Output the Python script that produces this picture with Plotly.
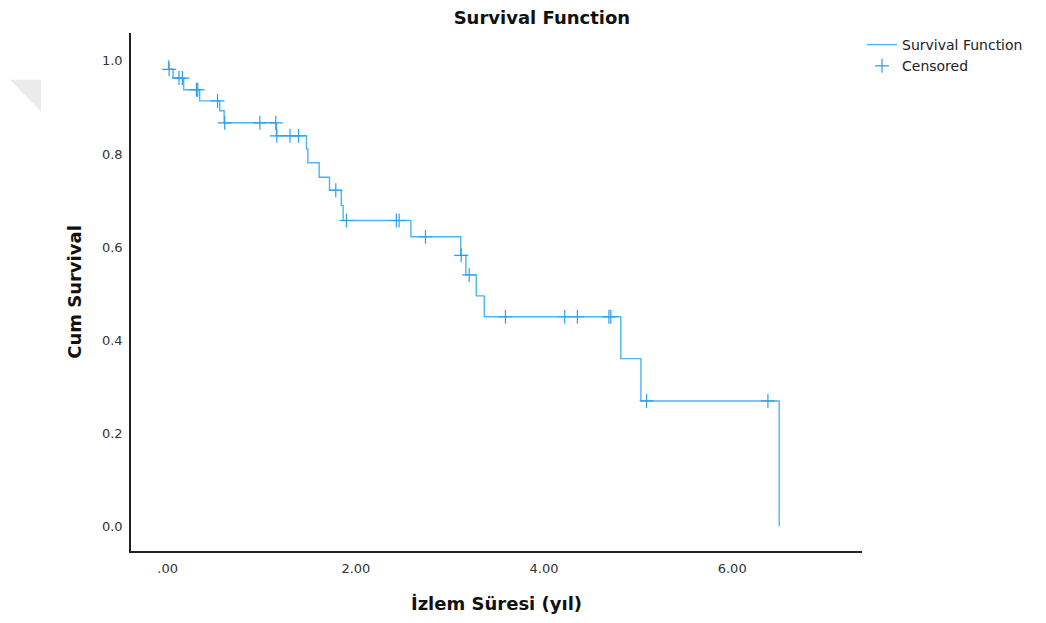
import numpy as np
import plotly.graph_objects as go

# Kaplan-Meier step points: event times (years) and cumulative survival after each step
event_times = [0.0, 0.01, 0.057, 0.17, 0.34, 0.553, 0.60, 1.156, 1.475, 1.49, 1.61,
               1.72, 1.845, 1.865, 2.585, 3.115, 3.17, 3.28, 3.365, 4.816, 5.03, 6.50]
cum_survival = [1.0, 0.982, 0.963, 0.938, 0.914, 0.893, 0.867, 0.839, 0.811, 0.781, 0.750,
                0.722, 0.689, 0.657, 0.622, 0.582, 0.540, 0.495, 0.450, 0.360, 0.269, 0.0]

# Censored follow-up times (years)
censor_times = [0.015, 0.12, 0.156, 0.305, 0.32, 0.53, 0.606, 0.98, 1.149, 1.16, 1.30,
                1.39, 1.787, 1.90, 2.43, 2.46, 2.74, 3.12, 3.205, 3.59, 4.22, 4.355,
                4.69, 4.71, 5.09, 6.38]

x_ticks = [0, 2, 4, 6]
x_tick_text = [".00", "2.00", "4.00", "6.00"]
y_ticks = [0.0, 0.2, 0.4, 0.6, 0.8, 1.0]
y_tick_text = ["0.0", "0.2", "0.4", "0.6", "0.8", "1.0"]

# survival level at each censored time
et = np.array(event_times)
cs = np.array(cum_survival)
censor_surv = cs[np.searchsorted(et, np.array(censor_times), side="right") - 1]

LINE = "#4db5f3"
MARK = "#2f9fe8"
FONT = "DejaVu Sans"

fig = go.Figure()
fig.add_trace(go.Scatter(
    x=event_times, y=cum_survival, mode="lines", line_shape="hv",
    line=dict(color=LINE, width=1.4), name="Survival Function",
))
fig.add_trace(go.Scatter(
    x=censor_times, y=censor_surv, mode="markers", name="Censored",
    marker=dict(symbol="cross-thin-open", size=10, color=MARK,
                line=dict(color=MARK, width=1.2)),
))

# faint grey corner fold at the left edge
fig.add_shape(type="path", xref="paper", yref="paper",
              path="M -0.1655,0.9096 L -0.123,0.9096 L -0.123,0.848 Z",
              fillcolor="#ebebeb", line=dict(width=0), layer="below")

fig.update_layout(
    width=1046, height=623,
    margin=dict(l=131, r=184, t=33, b=70),
    paper_bgcolor="white", plot_bgcolor="white",
    font=dict(family=FONT, color="#222222"),
    title=dict(text="<b>Survival Function</b>", x=588 / 1046, xref="paper",
               xanchor="center", y=1 - 18 / 623, yanchor="middle",
               font=dict(family=FONT, size=18, color="#111111")),
    showlegend=True,
    legend=dict(x=1.0, xanchor="left", y=1.0 + 4 / 520, yanchor="top",
                xref="paper", yref="paper", bgcolor="rgba(0,0,0,0)",
                font=dict(family=FONT, size=14, color="#222222"),
                tracegroupgap=0, itemwidth=30),
    xaxis=dict(range=[-0.39, 7.38], tickvals=x_ticks, ticktext=x_tick_text,
               showgrid=False, zeroline=False, showline=True, linecolor="#222222",
               linewidth=1.5, ticks="", tickfont=dict(size=13, color="#333333"),
               ticklabelstandoff=5,
               title=dict(text="<b>İzlem Süresi (yıl)</b>", standoff=22,
                          font=dict(family=FONT, size=18, color="#111111"))),
    yaxis=dict(range=[-0.0535, 1.06], tickvals=y_ticks, ticktext=y_tick_text,
               showgrid=False, zeroline=False, showline=True, linecolor="#222222",
               linewidth=1.5, ticks="", tickfont=dict(size=13, color="#333333"),
               ticklabelstandoff=4,
               title=dict(text="<b>Cum Survival</b>", standoff=16,
                          font=dict(family=FONT, size=18, color="#111111"))),
)

fig.write_html("out.html")
